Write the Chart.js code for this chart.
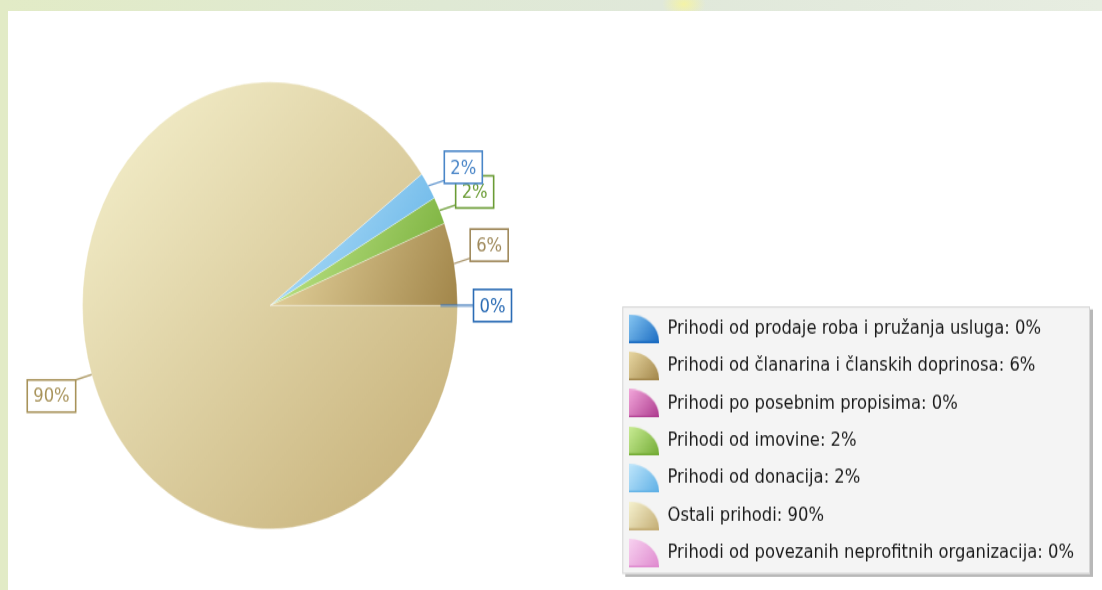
<!DOCTYPE html>
<html>
<head>
<meta charset="utf-8">
<title>Struktura prihoda</title>
<script src="https://cdn.jsdelivr.net/npm/chart.js@4.4.1/dist/chart.umd.min.js"></script>
<style>
  html, body { margin: 0; padding: 0; }
  body {
    width: 1102px; height: 590px; overflow: hidden; position: relative;
    background:
      radial-gradient(ellipse 22px 14px at 684px 4px, rgba(246,244,160,0.9), rgba(246,244,160,0) 100%),
      linear-gradient(90deg, #e2ebc6 0%, #dfe9d4 40%, #e0e8da 60%, #e7ede1 100%);
  }
  #panel { position: absolute; left: 8px; top: 11px; right: 0; bottom: 0; background: #fff; }
  /* the source picture is stretched vertically, so is the whole chart */
  #wrap { position: absolute; left: 0; top: 0; width: 1102px; height: 495px; transform: scaleY(1.1919); transform-origin: 0 0; }
</style>
</head>
<body>
<div id="panel"></div>
<div id="wrap"><canvas id="pieChart" width="1102" height="495"></canvas></div>
<script>
const categories = [
  'Prihodi od prodaje roba i pružanja usluga',
  'Prihodi od članarina i članskih doprinosa',
  'Prihodi po posebnim propisima',
  'Prihodi od imovine',
  'Prihodi od donacija',
  'Ostali prihodi',
  'Prihodi od povezanih neprofitnih organizacija'
];
const shares = [0, 6, 0, 2, 2, 90, 0];
// slices that get a percent callout next to the pie
const callouts = [true, true, false, true, true, true, false];

// colours
const lightColors = ['#86c6f2', '#e8d7a2', '#f2a6da', '#c9ec94', '#bfe6fb', '#f6f2cf', '#f8d2f0'];
const darkColors = ['#1b6cc2', '#a2864a', '#ad3a8e', '#74ac36', '#5eb0e6', '#c4ad74', '#df8acf'];
const calloutColors = ['#2b6cb5', '#a08a5c', '#b04a90', '#6b9c35', '#4a86c8', '#a8935a', '#d080c0'];

// where the pie sits on the canvas (before the vertical stretch)
const PIE_X = 270, PIE_Y = 256.3, PIE_R = 187.5;
const FONT_SIZE = 16.4, ROW_PAD = 15;

// quarter-disc legend icons
function makeIcon(i) {
  const cv = document.createElement('canvas');
  cv.width = 30; cv.height = 24;
  const c = cv.getContext('2d');
  const g = c.createLinearGradient(0, 0, 30, 24);
  g.addColorStop(0, lightColors[i]);
  g.addColorStop(1, darkColors[i]);
  c.fillStyle = g;
  c.beginPath();
  c.moveTo(0, 24);
  c.lineTo(0, 0);
  c.ellipse(0, 24, 30, 24, 0, -Math.PI / 2, 0);
  c.closePath();
  c.fill();
  c.fillStyle = darkColors[i];
  c.fillRect(0, 22.5, 30, 1.5);
  return cv;
}
const icons = categories.map((_, i) => makeIcon(i));

// gradient over each slice's own bounding box, light top-left to dark bottom-right
function sliceFill(ctx) {
  const i = ctx.dataIndex;
  const chart = ctx.chart, area = chart.chartArea;
  if (!area || i === undefined) return lightColors[i] || '#ddd';
  const cx = (area.left + area.right) / 2, cy = (area.top + area.bottom) / 2;
  const total = shares.reduce((a, b) => a + b, 0);
  let before = 0;
  for (let k = 0; k < i; k++) before += shares[k];
  const a0 = before / total * Math.PI * 2;
  const a1 = (before + shares[i]) / total * Math.PI * 2;
  let minX = cx, maxX = cx, minY = cy, maxY = cy;
  for (let s = 0; s <= 60; s++) {
    const a = a0 + (a1 - a0) * s / 60;
    const x = cx + PIE_R * Math.cos(a), y = cy + PIE_R * Math.sin(a);
    minX = Math.min(minX, x); maxX = Math.max(maxX, x);
    minY = Math.min(minY, y); maxY = Math.max(maxY, y);
  }
  if (maxX - minX < 1) maxX = minX + 1;
  if (maxY - minY < 1) maxY = minY + 1;
  // pie is drawn flipped vertically, so visual top-left is (minX, maxY) here
  const g = chart.ctx.createLinearGradient(minX, maxY, maxX, minY);
  g.addColorStop(0, lightColors[i]);
  g.addColorStop(1, darkColors[i]);
  return g;
}

const piePlugin = {
  id: 'piePlugin',
  beforeDraw(chart) {
    // legend panel with shadow
    const lg = chart.legend;
    if (!lg || !lg.legendItems || !lg.legendItems.length) return;
    const c = chart.ctx;
    const n = lg.legendItems.length;
    const firstMid = lg.bottom - n * (FONT_SIZE + ROW_PAD) + FONT_SIZE / 2;
    const lastMid = firstMid + (n - 1) * (FONT_SIZE + ROW_PAD);
    const x0 = lg.left + ROW_PAD - 7, x1 = lg.right + 6;
    const y0 = firstMid - 18.5, y1 = lastMid + 17.5;
    c.save();
    c.fillStyle = '#b8b8b8';
    c.fillRect(x0 + 3, y0 + 2.5, x1 - x0, y1 - y0);
    c.fillStyle = '#f4f4f4';
    c.fillRect(x0, y0, x1 - x0, y1 - y0);
    c.strokeStyle = '#d6d6d6';
    c.lineWidth = 1;
    c.strokeRect(x0 + 0.5, y0 + 0.5, x1 - x0 - 1, y1 - y0 - 1);
    c.restore();
  },
  beforeDatasetsDraw(chart) {
    const arc = chart.getDatasetMeta(0).data[0];
    const c = chart.ctx;
    c.save();
    c.translate(PIE_X, PIE_Y);
    c.scale(1, -1); // slices run counter-clockwise
    c.translate(-arc.x, -arc.y);
  },
  afterDatasetsDraw(chart) {
    const c = chart.ctx;
    c.restore();
    const meta = chart.getDatasetMeta(0);
    c.save();
    c.font = FONT_SIZE + 'px "DejaVu Sans"';
    c.textAlign = 'center';
    c.textBaseline = 'middle';
    meta.data.forEach((arc, i) => {
      if (!callouts[i]) return;
      const m = (arc.startAngle + arc.endAngle) / 2;
      const r = arc.outerRadius;
      const cosM = Math.cos(m), sinM = Math.sin(m);
      const ex = PIE_X + r * cosM, ey = PIE_Y - r * sinM;
      const sx = cosM >= 0 ? 1 : -1;
      const sy = sinM > 0.05 ? 1 : (sinM < -0.05 ? -1 : 0);
      const jx = ex + 16 * sx, jy = ey - 4.5 * sy;
      const zero = shares[i] === 0;
      const startR = zero ? r - 17 : r;
      c.strokeStyle = calloutColors[i];
      c.globalAlpha = zero ? 0.55 : 0.85;
      c.lineWidth = zero ? 2.6 : 1.4;
      c.beginPath();
      c.moveTo(PIE_X + startR * cosM, PIE_Y - startR * sinM);
      c.lineTo(jx, jy);
      c.stroke();
      c.globalAlpha = 1;
      const text = shares[i] + '%';
      const w = c.measureText(text).width + 12, h = 27;
      const bx = sx > 0 ? jx : jx - w;
      const by = sy > 0 ? jy + 2.5 - h : (sy < 0 ? jy : jy - h / 2);
      c.fillStyle = '#ffffff';
      c.fillRect(bx, by, w, h);
      c.lineWidth = 1.6;
      c.strokeRect(bx, by, w, h);
      c.fillStyle = calloutColors[i];
      c.fillText(text, bx + w / 2, by + h / 2 + 1);
    });
    c.restore();
  }
};

const ctx = document.getElementById('pieChart').getContext('2d');
const pieChart = new Chart(ctx, {
  type: 'pie',
  data: {
    labels: categories,
    datasets: [{
      data: shares,
      backgroundColor: sliceFill,
      borderColor: 'rgba(255,255,255,0.4)',
      borderWidth: 0.8
    }]
  },
  options: {
    responsive: false,
    maintainAspectRatio: false,
    animation: false,
    events: [],
    rotation: 90,
    radius: PIE_R,
    layout: { padding: { left: 0, top: 27, right: 18, bottom: 7.8 } },
    plugins: {
      tooltip: { enabled: false },
      legend: {
        position: 'right',
        align: 'end',
        labels: {
          usePointStyle: true,
          pointStyleWidth: 30,
          padding: ROW_PAD,
          color: '#1a1a1a',
          font: { family: 'DejaVu Sans', size: FONT_SIZE },
          generateLabels: function (chart) {
            const base = Chart.overrides.doughnut.plugins.legend.labels.generateLabels(chart);
            return base.map(function (item, i) {
              item.text = categories[i] + ': ' + shares[i] + '%';
              item.pointStyle = icons[i];
              item.fontColor = '#1a1a1a';
              return item;
            });
          }
        }
      }
    }
  },
  plugins: [piePlugin]
});
</script>
</body>
</html>
